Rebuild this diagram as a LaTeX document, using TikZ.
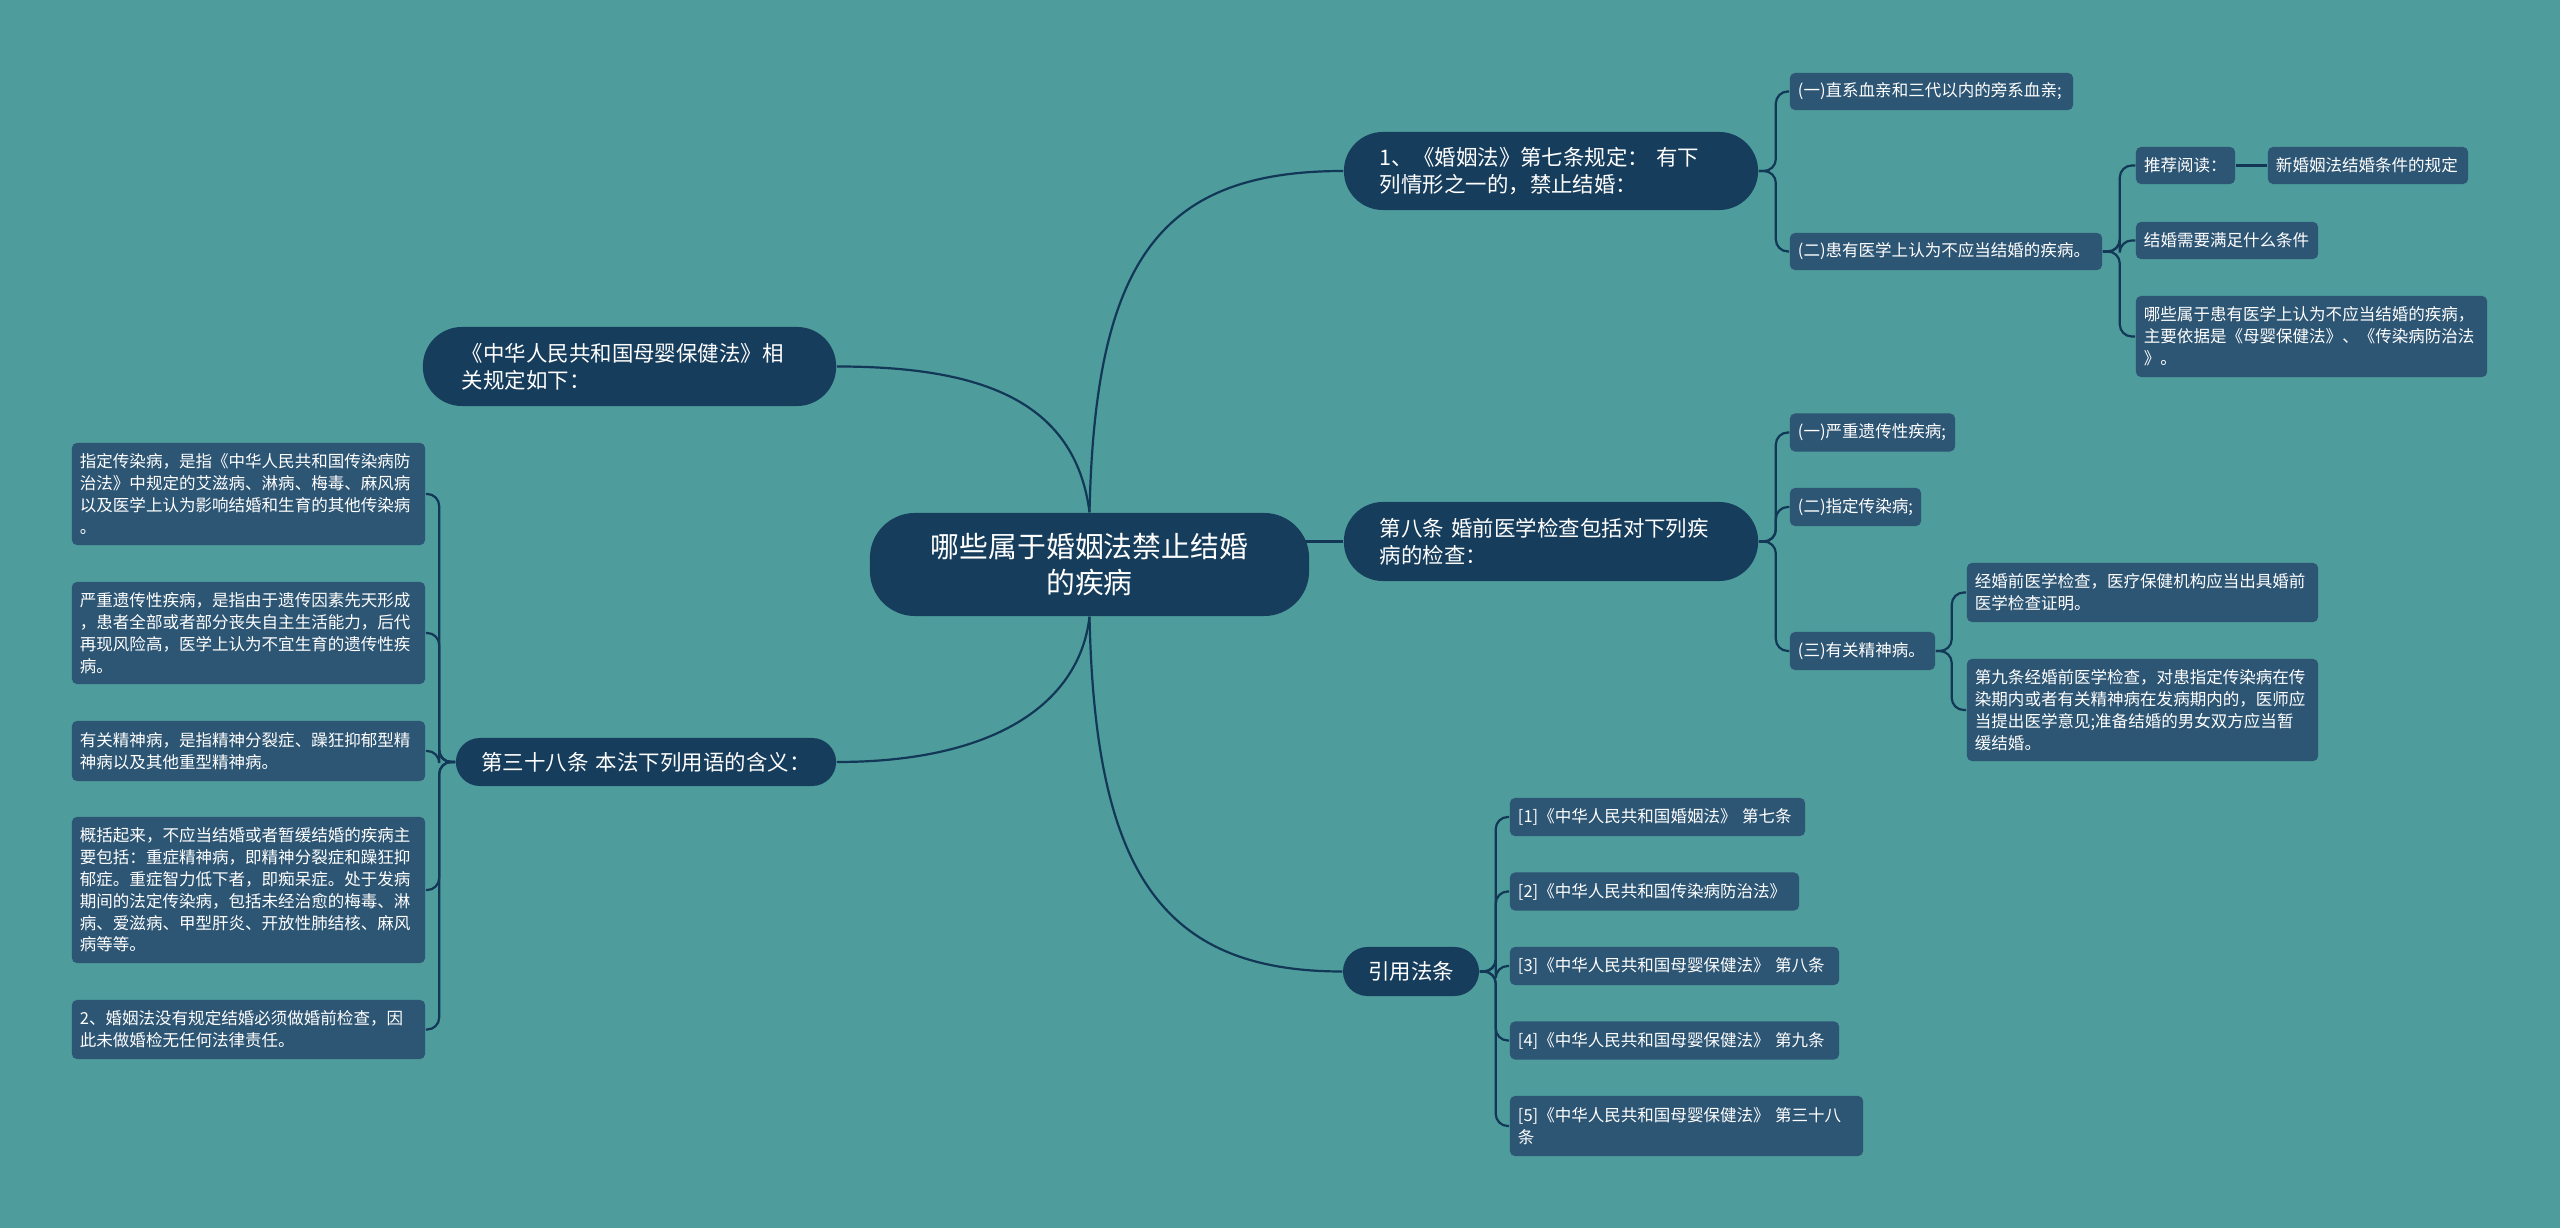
\documentclass[tikz,border=0pt]{standalone}
\usepackage{fontspec}
\setmainfont{Noto Sans CJK SC}
\definecolor{bg}{HTML}{4E9C9C}
\definecolor{mainc}{HTML}{173D5C}
\definecolor{leafc}{HTML}{2D5574}
\definecolor{linec}{HTML}{133857}
\pgfdeclarelayer{bgfill}
\pgfdeclarelayer{lines}
\pgfsetlayers{bgfill,lines,main}
\tikzset{
  rootn/.style={fill=mainc, text=white, rounded corners=0.45cm, inner xsep=0.2cm, inner ysep=0pt, align=center, font=\fontsize{8.2pt}{10.4pt}\selectfont},
  topic/.style={fill=mainc, text=white, inner ysep=0pt, font=\fontsize{6.1pt}{7.6pt}\selectfont},
  leaf/.style={fill=leafc, text=white, rounded corners=0.05cm, inner xsep=0.08cm, inner ysep=0pt, align=left, font=\fontsize{4.7pt}{6.2pt}\selectfont},
  conn/.style={draw=linec, line width=0.022cm},
  brk/.style={conn, rounded corners=0.12cm},
}
\begin{document}
\begin{tikzpicture}[x=0.01cm, y=-0.01cm]
\begin{pgfonlayer}{bgfill}
\fill[bg] (0,0) rectangle (2560,1228);
\end{pgfonlayer}
\useasboundingbox (0,0) rectangle (2560,1228);

% root
\node[rootn, text width=3.99cm, minimum height=1.03cm] (root) at (1089.5,564.5) {哪些属于婚姻法禁止结婚\\的疾病};

% level 1
\node[topic, rounded corners=0.39cm, inner xsep=0.36cm, text width=3.42cm, align=left, minimum height=0.78cm] (a) at (1551,171) {1、《婚姻法》第七条规定： 有下\\列情形之一的，禁止结婚：};
\node[topic, rounded corners=0.39cm, inner xsep=0.36cm, text width=3.42cm, align=left, minimum height=0.79cm] (b) at (1551,541.5) {第八条 婚前医学检查包括对下列疾\\病的检查：};
\node[topic, rounded corners=0.245cm, inner xsep=0.25cm, text width=0.86cm, align=center, minimum height=0.49cm] (c) at (1411,971.5) {引用法条};
\node[topic, rounded corners=0.39cm, inner xsep=0.39cm, text width=3.35cm, align=left, minimum height=0.79cm] (mb) at (629.5,366.5) {《中华人民共和国母婴保健法》相\\关规定如下：};
\node[topic, rounded corners=0.24cm, inner xsep=0.2cm, text width=3.4cm, align=center, minimum height=0.48cm] (d) at (646,762) {第三十八条 本法下列用语的含义：};

% children of a
\node[leaf, text width=2.67cm, minimum height=0.37cm] (l11) at (1931.5,91.5) {(一)直系血亲和三代以内的旁系血亲;};
\node[leaf, text width=2.96cm, minimum height=0.37cm] (l12) at (1946,251.5) {(二)患有医学上认为不应当结婚的疾病。};
\node[leaf, text width=0.83cm, minimum height=0.37cm] (l121) at (2185.5,165.5) {推荐阅读：};
\node[leaf, text width=1.84cm, minimum height=0.37cm] (l1211) at (2368,165.5) {新婚姻法结婚条件的规定};
\node[leaf, text width=1.66cm, minimum height=0.37cm] (l122) at (2227,240.5) {结婚需要满足什么条件};
\node[leaf, text width=3.35cm, minimum height=0.81cm] (l123) at (2311.5,336.5) {哪些属于患有医学上认为不应当结婚的疾病，\\主要依据是《母婴保健法》、《传染病防治法\\》。};

% children of b
\node[leaf, text width=1.49cm, minimum height=0.38cm] (l21) at (1872.5,432.5) {(一)严重遗传性疾病;};
\node[leaf, text width=1.15cm, minimum height=0.38cm] (l22) at (1855.5,507) {(二)指定传染病;};
\node[leaf, text width=1.29cm, minimum height=0.38cm] (l23) at (1862.5,651) {(三)有关精神病。};
\node[leaf, text width=3.35cm, minimum height=0.59cm] (l231) at (2142.5,592.5) {经婚前医学检查，医疗保健机构应当出具婚前\\医学检查证明。};
\node[leaf, text width=3.35cm, minimum height=1.02cm] (l232) at (2142.5,710) {第九条经婚前医学检查，对患指定传染病在传\\染期内或者有关精神病在发病期内的，医师应\\当提出医学意见;准备结婚的男女双方应当暂\\缓结婚。};

% children of c
\node[leaf, text width=2.79cm, minimum height=0.38cm] (r1) at (1657.5,817) {[1]《中华人民共和国婚姻法》 第七条};
\node[leaf, text width=2.73cm, minimum height=0.38cm] (r2) at (1654.5,891.5) {[2]《中华人民共和国传染病防治法》};
\node[leaf, text width=3.13cm, minimum height=0.38cm] (r3) at (1674.5,966) {[3]《中华人民共和国母婴保健法》 第八条};
\node[leaf, text width=3.13cm, minimum height=0.38cm] (r4) at (1674.5,1040.5) {[4]《中华人民共和国母婴保健法》 第九条};
\node[leaf, text width=3.37cm, minimum height=0.60cm] (r5) at (1686.5,1126) {[5]《中华人民共和国母婴保健法》 第三十八\\条};

% children of d
\node[leaf, text width=3.37cm, minimum height=1.02cm] (L1) at (248.5,494) {指定传染病，是指《中华人民共和国传染病防\\治法》中规定的艾滋病、淋病、梅毒、麻风病\\以及医学上认为影响结婚和生育的其他传染病\\。};
\node[leaf, text width=3.37cm, minimum height=1.02cm] (L2) at (248.5,633) {严重遗传性疾病，是指由于遗传因素先天形成\\，患者全部或者部分丧失自主生活能力，后代\\再现风险高，医学上认为不宜生育的遗传性疾\\病。};
\node[leaf, text width=3.37cm, minimum height=0.60cm] (L3) at (248.5,751) {有关精神病，是指精神分裂症、躁狂抑郁型精\\神病以及其他重型精神病。};
\node[leaf, text width=3.37cm, minimum height=1.46cm] (L4) at (248.5,890) {概括起来，不应当结婚或者暂缓结婚的疾病主\\要包括：重症精神病，即精神分裂症和躁狂抑\\郁症。重症智力低下者，即痴呆症。处于发病\\期间的法定传染病，包括未经治愈的梅毒、淋\\病、爱滋病、甲型肝炎、开放性肺结核、麻风\\病等等。};
\node[leaf, text width=3.37cm, minimum height=0.59cm] (L5) at (248.5,1029.5) {2、婚姻法没有规定结婚必须做婚前检查，因\\此未做婚检无任何法律责任。};

\begin{pgfonlayer}{lines}
% root connectors
\draw[conn] (root.north) .. controls (1095,260) and (1160,171) .. (a.west);
\draw[conn] (root.north) .. controls (1075,400) and (980,366.5) .. (mb.east);
\draw[conn] (b.west) -- (b.west -| root.center);
\draw[conn] (root.south) .. controls (1095,870) and (1160,971.5) .. (c.west);
\draw[conn] (root.south) .. controls (1080,700) and (1000,762) .. (d.east);

% brackets
\foreach \t in {l11,l12} \draw[brk] (a.east) -- ++(17,0) |- (\t.west);
\foreach \t in {l121,l122,l123} \draw[brk] (l12.east) -- ++(17,0) |- (\t.west);
\draw[conn] (l121.east) -- (l1211.west);
\foreach \t in {l21,l22,l23} \draw[brk] (b.east) -- ++(17,0) |- (\t.west);
\foreach \t in {l231,l232} \draw[brk] (l23.east) -- ++(16,0) |- (\t.west);
\foreach \t in {r1,r2,r3,r4,r5} \draw[brk] (c.east) -- ++(16,0) |- (\t.west);
\foreach \t in {L1,L2,L3,L4,L5} \draw[brk] (d.west) -- ++(-16,0) |- (\t.east);
\end{pgfonlayer}
\end{tikzpicture}
\end{document}
